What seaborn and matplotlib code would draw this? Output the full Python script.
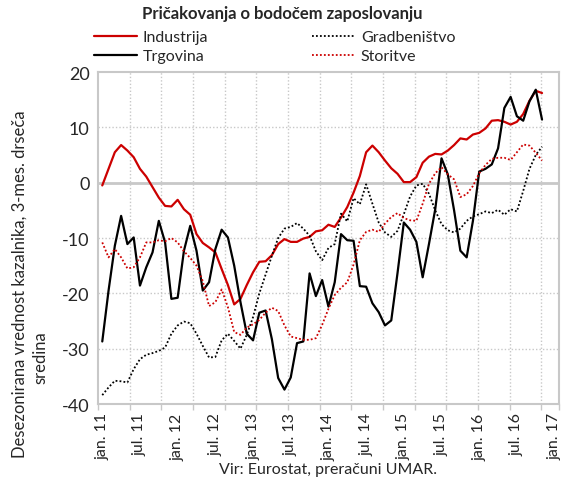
import numpy as np
import pandas as pd
import matplotlib
matplotlib.use("Agg")
import matplotlib.pyplot as plt
import seaborn as sns

# ---- data (monthly, Jan 2011 .. Nov 2016) ----
industrija = [-0.5, 2.5, 5.5, 6.8, 5.8, 4.6, 2.5, 1.1, -0.8, -2.7, -4.2, -4.3, -3.1, -4.8, -5.8,
              -9.3, -10.9, -11.7, -12.6, -15.6, -18.5, -22.0, -21.0, -18.5, -16.2, -14.3, -14.2,
              -13.1, -11.1, -10.2, -10.7, -10.7, -10.1, -9.8, -8.8, -8.6, -7.6, -8.0, -6.3, -4.4,
              -1.8, 1.2, 5.5, 6.7, 5.5, 4.0, 2.6, 1.6, 0.1, 0.1, 1.0, 3.6, 4.7, 5.2, 5.1, 5.8,
              6.8, 8.0, 7.8, 8.7, 9.0, 9.8, 11.2, 11.3, 11.0, 10.5, 11.0, 12.4, 14.8, 16.6, 16.2]
trgovina = [-28.7, -19.5, -11.4, -6.0, -11.1, -9.9, -18.6, -15.3, -12.6, -6.9, -10.8, -21.0,
            -20.8, -12.3, -7.8, -12.3, -19.5, -18.0, -12.0, -8.5, -9.9, -15.0, -21.6, -27.3,
            -28.5, -23.5, -23.1, -28.3, -35.3, -37.4, -35.2, -29.0, -28.7, -16.4, -20.5, -17.6,
            -22.4, -18.0, -9.3, -10.4, -10.5, -18.7, -18.8, -21.8, -23.4, -25.8, -24.9, -16.3,
            -7.2, -8.5, -10.7, -17.1, -11.1, -4.8, 4.4, 1.5, -5.0, -12.3, -13.5, -6.9, 2.0,
            2.5, 3.3, 6.2, 13.5, 15.5, 12.0, 11.2, 14.7, 16.8, 11.4]
gradbenistvo = [-38.4, -37.0, -35.8, -35.9, -36.1, -33.7, -31.9, -31.1, -30.8, -30.4, -29.8,
                -27.3, -25.8, -25.1, -25.4, -27.3, -29.5, -31.6, -31.5, -28.5, -27.3, -28.6,
                -30.0, -27.5, -24.3, -20.0, -16.6, -13.2, -10.0, -8.3, -8.0, -7.3, -8.3, -9.6,
                -12.4, -14.0, -11.8, -11.1, -5.6, -7.0, -2.8, -3.9, -0.3, -3.8, -7.2, -9.0,
                -9.8, -8.7, -5.7, -2.5, -0.5, -0.2, -2.0, -5.0, -7.5, -8.6, -9.0, -8.3, -6.9,
                -6.1, -5.7, -5.2, -5.5, -4.9, -5.8, -4.8, -5.2, -1.5, 2.5, 5.0, 6.5]
storitve = [-10.8, -13.5, -12.0, -13.5, -15.5, -15.3, -13.5, -10.8, -10.8, -10.4, -10.6, -10.0,
            -10.8, -12.4, -13.6, -15.0, -17.8, -22.3, -21.6, -19.3, -22.5, -27.0, -27.5, -26.2,
            -25.6, -24.8, -23.5, -22.6, -23.2, -25.8, -27.8, -28.1, -28.4, -28.4, -28.1, -25.7,
            -22.8, -20.3, -19.0, -18.0, -14.8, -10.4, -8.9, -8.5, -8.9, -7.4, -6.2, -5.5, -6.4,
            -6.8, -6.9, -3.8, -0.2, 1.7, 2.8, 1.5, 0.6, -2.6, -2.1, -0.6, 1.7, 3.2, 4.3, 4.5,
            4.5, 4.1, 5.5, 6.9, 6.7, 5.4, 4.0]
tick_labels = ["jan. 11", "jul. 11", "jan. 12", "jul. 12", "jan. 13", "jul. 13", "jan. 14",
               "jul. 14", "jan. 15", "jul. 15", "jan. 16", "jul. 16", "jan. 17"]
y_ticks = [-40, -30, -20, -10, 0, 10, 20]

sns.set_theme(style="white")
plt.rcParams['font.family'] = ['Lato', 'DejaVu Sans']
plt.rcParams['axes.unicode_minus'] = False

fig = plt.figure(figsize=(5.75, 4.85), dpi=100)
ax = fig.add_axes([98/575, 1-405/485, (559-98)/575, (405-73)/485])

months = np.arange(len(industrija))
df = pd.DataFrame({"m": months, "Industrija": industrija, "Trgovina": trgovina,
                   "Gradbeništvo": gradbenistvo, "Storitve": storitve})

red = "#cc0000"
grid_c = "#c8c8c8"

# grid
for v in [10, -10, -20, -30]:
    ax.axhline(v, color=grid_c, lw=1.0, ls=(0, (1, 1.5)), zorder=0)
ax.axhline(0, color=grid_c, lw=2.0, zorder=0)
vgrid = -0.68 + 5.04 * np.arange(1, 15)
for v in vgrid:
    ax.axvline(v, color=grid_c, lw=1.0, ls=(0, (1, 1.5)), zorder=0)

sns.lineplot(data=df, x="m", y="Industrija", ax=ax, color=red, lw=1.6, label="Industrija")
sns.lineplot(data=df, x="m", y="Trgovina", ax=ax, color="black", lw=1.6, label="Trgovina")
sns.lineplot(data=df, x="m", y="Gradbeništvo", ax=ax, color="black", lw=1.3,
             ls=(0, (1, 1.2)), label="Gradbeništvo")
sns.lineplot(data=df, x="m", y="Storitve", ax=ax, color=red, lw=1.3,
             ls=(0, (1, 1.2)), label="Storitve")

ax.set_xlim(-0.68, 72.7)
ax.set_ylim(-40, 20)
ax.set_yticks(y_ticks)
ax.set_yticklabels([str(v) for v in y_ticks], fontsize=13)
ax.set_xticks(np.arange(0, 73, 6))
ax.set_xticklabels(tick_labels, rotation=90, fontsize=11.5)
ax.set_xticks(np.concatenate([[-0.68], vgrid, [72.7]]), minor=True)
ax.tick_params(axis="x", which="major", length=0, pad=6)
ax.tick_params(axis="x", which="minor", length=4, color=grid_c, width=1, direction="out", bottom=True)
ax.tick_params(axis="y", length=0, pad=6)
ax.set_xlabel("")
ax.set_ylabel("")
for s in ax.spines.values():
    s.set_color(grid_c)
    s.set_linewidth(1.5)

ax.get_legend().remove()
h, l = ax.get_legend_handles_labels()
fig.legend(h, l, ncol=2, loc="upper left", bbox_to_anchor=(94/575, 1-31/485),
           frameon=False, fontsize=11.5, handlelength=2.7, columnspacing=6.5,
           labelspacing=0.3, handletextpad=0.35, borderaxespad=0, borderpad=0)

fig.text(282/575, 1-14/485, "Pričakovanja o bodočem zaposlovanju", ha="center", va="center",
         fontsize=12, fontweight="bold")
fig.text(20/575, 1-284/485, "Desezonirana vrednost kazalnika, 3-mes. drseča", rotation=90,
         ha="center", va="center", fontsize=12)
fig.text(40/575, 1-358/485, "sredina", rotation=90, ha="center", va="center", fontsize=12)
fig.text(328/575, 1-470/485, "Vir: Eurostat, preračuni UMAR.", ha="center", va="center",
         fontsize=11.5)

fig.savefig("out.png", dpi=100)
